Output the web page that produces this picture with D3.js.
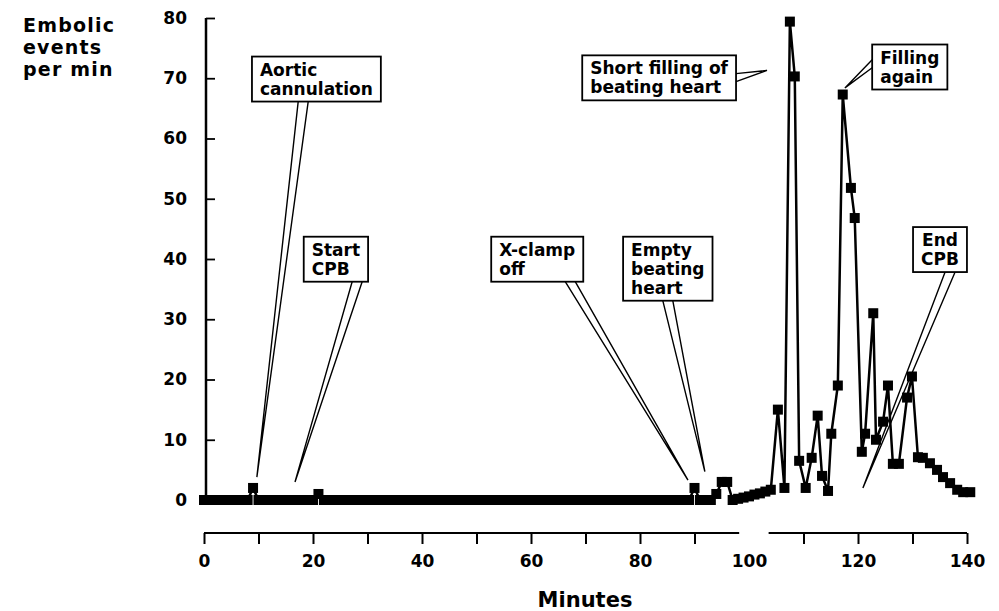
<!DOCTYPE html>
<html>
<head>
<meta charset="utf-8" />
<script src="https://d3js.org/d3.v7.min.js"></script>
<style>
  body { margin: 0; background: #fff; }
  text { font-family: "DejaVu Sans", sans-serif; font-weight: bold; fill: #000; }
</style>
</head>
<body>
<svg id="vis"></svg>
<script>
// one reading per minute, minute 0..104
var earlyValues = [
  0, 0, 0, 0, 0, 0, 0, 0, 0, 2,
  0, 0, 0, 0, 0, 0, 0, 0, 0, 0,
  0, 1, 0, 0, 0, 0, 0, 0, 0, 0,
  0, 0, 0, 0, 0, 0, 0, 0, 0, 0,
  0, 0, 0, 0, 0, 0, 0, 0, 0, 0,
  0, 0, 0, 0, 0, 0, 0, 0, 0, 0,
  0, 0, 0, 0, 0, 0, 0, 0, 0, 0,
  0, 0, 0, 0, 0, 0, 0, 0, 0, 0,
  0, 0, 0, 0, 0, 0, 0, 0, 0, 0,
  2, 0, 0, 0, 1, 3, 3, 0, 0.2, 0.4,
  0.6, 0.9, 1.1, 1.4, 1.7
];
var lateMinutes = [105.3, 106.5, 107.5, 108.4, 109.2, 110.4, 111.5, 112.6, 113.4, 114.5,
  115.1, 116.3, 117.2, 118.7, 119.4, 120.7, 121.3, 122.8, 123.3, 124.6,
  125.5, 126.4, 127.5, 129.0, 129.9, 131.0, 131.9, 133.2, 134.5, 135.6,
  136.9, 138.2, 139.3, 140.6];
var lateValues = [15, 2, 79.4, 70.3, 6.5, 2, 7, 14, 4, 1.5,
  11, 19, 67.3, 51.8, 46.8, 8, 11, 31, 10, 13,
  19, 6, 6, 17, 20.5, 7.1, 7, 6.1, 5, 3.8,
  2.8, 1.7, 1.3, 1.3];

var yTicks = [0, 10, 20, 30, 40, 50, 60, 70, 80];
var xTicks = [0, 10, 20, 30, 40, 50, 60, 70, 80, 90, 100, 110, 120, 130, 140];
var xLabels = [0, 20, 40, 60, 80, 100, 120, 140];
var axisPieces = [[0, 98.2], [103.6, 140]];

// callouts: box corner (minute, value), where the pointer leaves the box, and its tip
var notes = [
  { lines: ["Aortic", "cannulation"], box: [8.8, 73.6], side: "bottom", at: 18.2, tip: [9.7, 3.8] },
  { lines: ["Start", "CPB"], box: [18.3, 43.7], side: "bottom", at: 28.1, tip: [16.7, 3] },
  { lines: ["X-clamp", "off"], box: [52.7, 43.7], side: "bottom", at: 67.2, tip: [88.8, 3.3] },
  { lines: ["Empty", "beating", "heart"], box: [76.9, 43.7], side: "bottom", at: 85.1, tip: [91.9, 4.7] },
  { lines: ["Short filling of", "beating heart"], box: [69.4, 73.8], side: "right", at: 70.1, tip: [103.3, 71.3] },
  { lines: ["Filling", "again"], box: [122.6, 75.6], side: "left", at: 72.4, tip: [117.6, 68.4] },
  { lines: ["End", "CPB"], box: [130.1, 45.3], side: "bottom", at: 136.9, tip: [120.9, 2], center: true }
];

var width = 999, height = 611;
var svg = d3.select("#vis").attr("width", width).attr("height", height);

var x = d3.scaleLinear().domain([0, 140]).range([204, 967]);
var y = d3.scaleLinear().domain([0, 80]).range([500, 18]);

var points = earlyValues.map(function (v, i) { return [i, v]; })
  .concat(lateMinutes.map(function (t, i) { return [t, lateValues[i]]; }));

// y axis, ticks pointing inward
var yAxis = svg.append("g")
  .attr("transform", "translate(206,0)")
  .call(d3.axisLeft(y).tickValues(yTicks).tickSizeInner(-9).tickSizeOuter(0).tickPadding(19));
yAxis.select(".domain").attr("stroke-width", 2.5).attr("d", "M0," + (y(0) + 5) + "V" + y(80));
yAxis.selectAll(".tick line").attr("stroke-width", 1.8);
yAxis.selectAll("text").attr("font-size", 17).attr("font-family", null);

// x axis in two pieces
var xAxis = svg.append("g")
  .attr("transform", "translate(0,533)")
  .call(d3.axisBottom(x).tickValues(xTicks).tickSizeInner(11).tickSizeOuter(0).tickPadding(11)
    .tickFormat(function (d) { return xLabels.indexOf(d) >= 0 ? d : ""; }));
xAxis.select(".domain").remove();
xAxis.selectAll(".tick").filter(function (d) { return d === 100; }).select("line").remove();
xAxis.selectAll(".tick line").attr("stroke-width", 2);
xAxis.selectAll("text").attr("font-size", 17).attr("font-family", null);
xAxis.selectAll(".piece").data(axisPieces).enter().append("line")
  .attr("x1", function (d) { return x(d[0]); })
  .attr("x2", function (d) { return x(d[1]); })
  .attr("y1", 0).attr("y2", 0)
  .attr("stroke", "#000").attr("stroke-width", 2);

// titles
var title = svg.append("text").attr("x", 23).attr("y", 32)
  .attr("font-size", 19).attr("letter-spacing", 1.2);
["Embolic", "events", "per min"].forEach(function (s, i) {
  title.append("tspan").attr("x", 23).attr("dy", i === 0 ? 0 : 22).text(s);
});
svg.append("text").attr("x", 585).attr("y", 607).attr("text-anchor", "middle")
  .attr("font-size", 21).text("Minutes");

// callout layout
var annot = svg.append("g");
var noteGroups = notes.map(function (n) {
  var g = annot.append("g");
  var left = x(n.box[0]), top = y(n.box[1]);
  var t = g.append("text").attr("font-size", 17);
  n.lines.forEach(function (s, i) {
    t.append("tspan").attr("dy", i === 0 ? 0 : 19).text(s);
  });
  var w = 0;
  t.selectAll("tspan").each(function () { w = Math.max(w, this.getComputedTextLength()); });
  var bw = w + 16, bh = 19 * n.lines.length + 7;
  t.attr("y", top + 19);
  t.selectAll("tspan").attr("x", n.center ? left + bw / 2 : left + 8)
    .attr("text-anchor", n.center ? "middle" : "start");
  n.rect = [left, top, bw, bh];
  return g;
});

// pointers drawn first, under the data
var pointerG = svg.insert("g", function () { return annot.node(); });
notes.forEach(function (n) {
  var r = n.rect, a, b;
  if (n.side === "bottom") {
    var bx = x(n.at);
    a = [bx - 5, r[1] + r[3]]; b = [bx + 5, r[1] + r[3]];
  } else {
    var by = y(n.at), ex = n.side === "right" ? r[0] + r[2] : r[0];
    a = [ex, by - 4]; b = [ex, by + 4];
  }
  var tip = [x(n.tip[0]), y(n.tip[1])];
  pointerG.append("path")
    .attr("d", "M" + a + "L" + tip + "L" + b)
    .attr("fill", "#fff").attr("stroke", "#000").attr("stroke-width", 1.4);
});

// data
var dataG = svg.insert("g", function () { return annot.node(); });
dataG.append("path").datum(points)
  .attr("d", d3.line().x(function (d) { return x(d[0]); }).y(function (d) { return y(d[1]); }))
  .attr("fill", "none").attr("stroke", "#000").attr("stroke-width", 2.5);
dataG.selectAll("rect").data(points).enter().append("rect")
  .attr("x", function (d) { return x(d[0]) - 5; })
  .attr("y", function (d) { return y(d[1]) - 5; })
  .attr("width", 10).attr("height", 10).attr("fill", "#000");

// boxes behind their texts
noteGroups.forEach(function (g, i) {
  var r = notes[i].rect;
  g.insert("rect", "text")
    .attr("x", r[0]).attr("y", r[1]).attr("width", r[2]).attr("height", r[3])
    .attr("fill", "#fff").attr("stroke", "#000").attr("stroke-width", 1.8);
});
</script>
</body>
</html>
